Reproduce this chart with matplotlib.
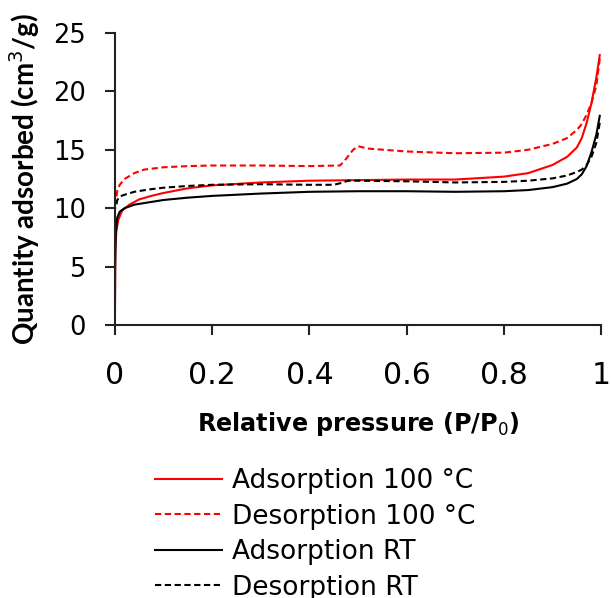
import numpy as np
import matplotlib
matplotlib.use("Agg")
import matplotlib.pyplot as plt

plt.rcParams['font.family'] = ['DejaVu Sans']

# Adsorption 100 C
ads100_x = [0, 0.001, 0.003, 0.007, 0.015, 0.03, 0.05, 0.075, 0.1, 0.15, 0.2, 0.3, 0.4, 0.5,
            0.6, 0.7, 0.8, 0.85, 0.9, 0.93, 0.95, 0.96, 0.97, 0.98, 0.99, 0.997]
ads100_y = [0, 6.5, 8.0, 9.0, 9.8, 10.3, 10.75, 11.05, 11.3, 11.7, 11.95, 12.2, 12.35, 12.4,
            12.45, 12.45, 12.7, 13.0, 13.7, 14.4, 15.2, 16.0, 17.3, 19.0, 21.2, 23.1]

# Desorption 100 C
des100_x = [0.997, 0.99, 0.98, 0.97, 0.96, 0.95, 0.93, 0.9, 0.85, 0.8, 0.7, 0.6, 0.52, 0.5,
            0.49, 0.475, 0.463, 0.4, 0.3, 0.2, 0.15, 0.1, 0.06, 0.04, 0.02, 0.01, 0.005, 0.002]
des100_y = [22.8, 20.5, 19.0, 18.0, 17.2, 16.7, 16.0, 15.5, 15.0, 14.75, 14.7, 14.85, 15.1, 15.3,
            15.0, 14.2, 13.65, 13.6, 13.65, 13.65, 13.6, 13.5, 13.3, 13.0, 12.5, 12.0, 11.5, 10.5]

# Adsorption RT
adsRT_x = [0, 0.0005, 0.002, 0.005, 0.01, 0.02, 0.04, 0.07, 0.1, 0.15, 0.2, 0.3, 0.4, 0.5,
           0.6, 0.7, 0.8, 0.85, 0.9, 0.93, 0.95, 0.96, 0.97, 0.98, 0.99, 0.997]
adsRT_y = [0, 5, 8, 9.2, 9.7, 10.0, 10.3, 10.5, 10.7, 10.9, 11.05, 11.25, 11.4, 11.45,
           11.45, 11.4, 11.45, 11.55, 11.8, 12.1, 12.5, 12.9, 13.6, 14.8, 16.3, 17.9]

# Desorption RT
desRT_x = [0.997, 0.99, 0.98, 0.97, 0.96, 0.95, 0.93, 0.9, 0.85, 0.8, 0.7, 0.6, 0.5, 0.48,
           0.465, 0.45, 0.4, 0.3, 0.2, 0.15, 0.1, 0.07, 0.04, 0.02, 0.01, 0.005, 0.002]
desRT_y = [17.3, 15.6, 14.4, 13.7, 13.3, 13.1, 12.8, 12.55, 12.35, 12.25, 12.2, 12.3, 12.35, 12.35,
           12.15, 12.0, 12.0, 12.05, 12.0, 11.9, 11.75, 11.6, 11.4, 11.15, 11.0, 10.7, 10.0]

fig = plt.figure(figsize=(6.11, 5.98), dpi=100)
ax = fig.add_axes([0.188, 0.4565, 0.796, 0.4885])

lw = 1.5
dash = (0, (3.0, 1.7))
ax.plot(ads100_x, ads100_y, color='#ff0000', lw=lw, label='Adsorption 100 °C')
ax.plot(des100_x, des100_y, color='#ff0000', lw=lw, ls=dash, label='Desorption 100 °C')
ax.plot(adsRT_x, adsRT_y, color='black', lw=lw, label='Adsorption RT')
ax.plot(desRT_x, desRT_y, color='black', lw=lw, ls=dash, label='Desorption RT')

ax.set_xlim(0, 1)
ax.set_ylim(0, 25)
ax.set_xticks([0, 0.2, 0.4, 0.6, 0.8, 1])
ax.set_xticklabels(['0', '0.2', '0.4', '0.6', '0.8', '1'])
ax.set_yticks([0, 5, 10, 15, 20, 25])

for s in ['top', 'right']:
    ax.spines[s].set_visible(False)
for s in ['left', 'bottom']:
    ax.spines[s].set_linewidth(1.5)
    ax.spines[s].set_color('#222222')
ax.tick_params(direction='out', length=7, width=1.5, color='#222222')
ax.tick_params(axis='x', labelsize=21.5, pad=19)
ax.tick_params(axis='y', labelsize=18.5, pad=14)

ax.set_xlabel('Relative pressure (P/P$_0$)', fontsize=17.2, fontweight='bold', labelpad=14)
ax.set_ylabel('Quantity adsorbed (cm$^3$/g)', fontsize=20, fontweight='bold', labelpad=8,
              family=['Lato', 'DejaVu Sans'])

fig.legend(loc='upper left', bbox_to_anchor=(0.253, 0.217), frameon=False, fontsize=19,
           handlelength=2.55, handletextpad=0.38, labelspacing=0.36, borderpad=0, borderaxespad=0)

fig.savefig('out.png', dpi=100)
